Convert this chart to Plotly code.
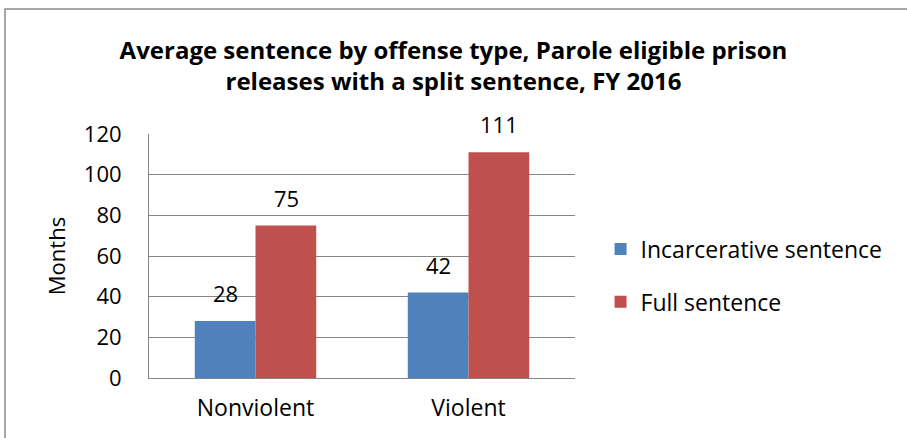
import plotly.graph_objects as go

categories = ["Nonviolent", "Violent"]
incarcerative = [28, 42]
full = [75, 111]
series_names = ["Incarcerative sentence", "Full sentence"]
title_lines = ["Average sentence by offense type, Parole eligible prison",
               "releases with a split sentence, FY 2016"]

FONT = "Open Sans"
COLORS = ["#4F81BD", "#C0504D"]
fig = go.Figure()
for i, (vals, nm) in enumerate([(incarcerative, series_names[0]), (full, series_names[1])]):
    fig.add_trace(go.Bar(x=categories, y=vals, name=nm,
                         marker=dict(color=COLORS[i], line=dict(width=0)),
                         legendgroup=str(i)))
    for c, v in zip(categories, vals):
        fig.add_annotation(x=c, y=v, text=str(v), showarrow=False,
                           xanchor="center", yanchor="bottom",
                           xshift=-30.5 if i == 0 else 30.5, yshift=11,
                           font=dict(size=22, family=FONT, color="black"))

fig.update_layout(
    width=907, height=438,
    margin=dict(l=149, r=332, t=134, b=60),
    paper_bgcolor="white", plot_bgcolor="white",
    font=dict(family=FONT, size=22, color="black"),
    barmode="group", bargap=0.43, bargroupgap=0,
    title=dict(text="<b>" + title_lines[0] + "<br>" + title_lines[1] + "</b>",
               x=0.5, xanchor="center", y=0.865, yanchor="middle",
               font=dict(size=24, family=FONT, color="black")),
    showlegend=True,
    legend=dict(x=1.06, xanchor="left", y=0.42, yanchor="middle",
                traceorder="grouped", tracegroupgap=20,
                font=dict(size=23, family=FONT, color="black"),
                bgcolor="rgba(0,0,0,0)"),
)
fig.update_yaxes(range=[0, 120], dtick=20, showgrid=True, gridcolor="#868686",
                 gridwidth=1, showline=True, linecolor="#868686", linewidth=1,
                 ticks="", ticklabelstandoff=22, zeroline=False,
                 title=dict(text="Months", font=dict(size=22), standoff=12),
                 tickfont=dict(size=22))
fig.update_xaxes(showline=True, linecolor="#868686", linewidth=1, ticks="",
                 ticklabelstandoff=9, tickfont=dict(size=23))

# chart border
fig.add_shape(type="rect", xref="paper", yref="paper",
              x0=(5 - 149) / 426, x1=(915 - 149) / 426,
              y0=(378 - 445) / 244, y1=(378 - 9) / 244,
              line=dict(color="#8C8C8C", width=1.5), fillcolor="rgba(0,0,0,0)",
              layer="below")

fig.write_html("out.html")
